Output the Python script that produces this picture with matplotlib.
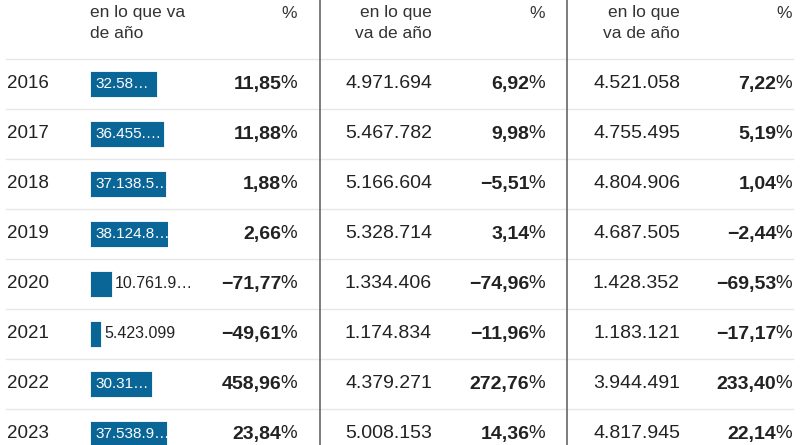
import matplotlib.pyplot as plt

plt.rcParams['font.family'] = ['Liberation Sans', 'DejaVu Sans']

years = ['2016', '2017', '2018', '2019', '2020', '2021', '2022', '2023']
total = [32584000, 36455300, 37138500, 38124800, 10761900, 5423099, 30313000, 37538900]
total_labels = ['32.58…', '36.455.…', '37.138.5…', '38.124.8…',
                '10.761.9…', '5.423.099', '30.31…', '37.538.9…']
total_pct = ['11,85', '11,88', '1,88', '2,66', '−71,77', '−49,61', '458,96', '23,84']
col2 = ['4.971.694', '5.467.782', '5.166.604', '5.328.714',
        '1.334.406', '1.174.834', '4.379.271', '5.008.153']
col2_pct = ['6,92', '9,98', '−5,51', '3,14', '−74,96', '−11,96', '272,76', '14,36']
col3 = ['4.521.058', '4.755.495', '4.804.906', '4.687.505',
        '1.428.352', '1.183.121', '3.944.491', '4.817.945']
col3_pct = ['7,22', '5,19', '1,04', '−2,44', '−69,53', '−17,17', '233,40', '22,14']

W, H = 800, 445
TXT = '#222222'
BAR = '#0b6698'

fig = plt.figure(figsize=(8, 4.45), dpi=100)
ax = fig.add_axes([0, 0, 1, 1])
ax.set_xlim(0, W)
ax.set_ylim(H, 0)
ax.axis('off')

rows_y = [84 + 50 * i for i in range(len(years))]

# grid lines
for i in range(len(years)):
    ax.plot([6, 793], [59 + 50 * i, 59 + 50 * i], color='#e6e6e6', lw=1, zorder=0)
for xv in (320, 567):
    ax.plot([xv, xv], [0, H], color='#666666', lw=1.2, zorder=1)

# headers
hdr = dict(color='#333333', fontsize=12.5, va='center', linespacing=1.55)
ax.text(90, 23, 'en lo que va\nde año', ha='left', **hdr)
ax.text(297, 13, '%', ha='right', **hdr)
ax.text(432, 23, 'en lo que\nva de año', ha='right', ma='right', **hdr)
ax.text(545, 13, '%', ha='right', **hdr)
ax.text(680, 23, 'en lo que\nva de año', ha='right', ma='right', **hdr)
ax.text(792, 13, '%', ha='right', **hdr)


def pct(x, y, s):
    p = ax.text(x, y, '%', ha='right', va='center', fontsize=13.5, color=TXT)
    ax.annotate(s, xy=(0, 0.5), xycoords=p, xytext=(1, 0), textcoords='offset pixels',
                ha='right', va='center', fontsize=14, weight='bold', color=TXT)


for i, y in enumerate(rows_y):
    ax.text(7, y, years[i], ha='left', va='center', fontsize=13.5, color=TXT)
    pct(297, y, total_pct[i])
    ax.text(432, y, col2[i], ha='right', va='center', fontsize=14, color=TXT)
    pct(545, y, col2_pct[i])
    ax.text(680, y, col3[i], ha='right', va='center', fontsize=14, color=TXT)
    pct(792, y, col3_pct[i])

# bar column
bax = fig.add_axes([90.3 / W, 0, 77.5 / W, 1])
bax.set_ylim(H, 0)
bax.set_xlim(0, max(total))
bax.axis('off')
bax.barh(rows_y, total, height=26, color=BAR, edgecolor='white', linewidth=0.6)
for i, y in enumerate(rows_y):
    if total[i] > 0.5 * max(total):
        bax.annotate(total_labels[i], xy=(0, y), xytext=(5, 0), textcoords='offset pixels',
                     ha='left', va='center', fontsize=11, color='white',
                     annotation_clip=False)
    else:
        bax.annotate(total_labels[i], xy=(total[i], y), xytext=(3, 0), textcoords='offset pixels',
                     ha='left', va='center', fontsize=11.5, color=TXT,
                     annotation_clip=False)

fig.savefig('out.png', dpi=100)
